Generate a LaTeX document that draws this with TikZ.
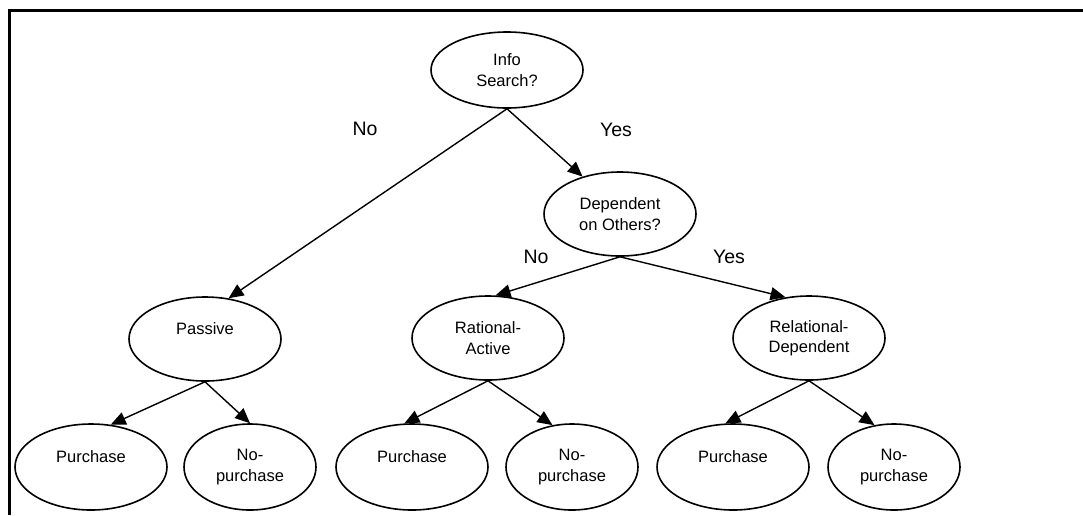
\documentclass[tikz,border=0pt]{standalone}
\usepackage{fontspec}
\setmainfont{Liberation Sans}
\usepackage{tikz}
\usetikzlibrary{arrows.meta,positioning,shapes.geometric}
\definecolor{ink}{HTML}{000000}
\tikzset{
  choice/.style={draw=ink,ellipse,line width=1.6pt,align=center,
    font=\fontsize{16.5}{20.5}\selectfont,minimum width=152pt,minimum height=84pt,inner sep=2pt},
  leafbox/.style={choice,minimum height=86pt},
  outcome/.style={leafbox,minimum width=132pt},
  arr/.style={-{Triangle[length=15pt,width=13pt]},line width=1.4pt,draw=ink},
  branch/.style={font=\fontsize{19.5}{22}\selectfont,text=ink},
}

\begin{document}
\begin{tikzpicture}[x=1pt,y=-1pt]
  \useasboundingbox (0,0) rectangle (1083,515);
  \draw[line width=3pt] (9.5,515) -- (9.5,10.5) -- (1083,10.5);
  % decisions
  \node[choice,minimum height=76pt] (info) at (507,70) {Info\\Search?};
  \node[choice] (dep) at (620,214) {Dependent\\on Others?};
  \node[choice] (passive) at (205,339) {Passive\\\mbox{}};
  \node[choice] (ratio) at (488,338) {Rational-\\Active};
  \node[choice] (relat) at (809,338) {Relational-\\Dependent};
  % outcomes
  \node[leafbox] (buyA) at (91,467) {Purchase\\\mbox{}};
  \node[outcome] (skipA) at (250,467) {No-\\purchase};
  \node[leafbox] (buyB) at (412,467) {Purchase\\\mbox{}};
  \node[outcome] (skipB) at (572,467) {No-\\purchase};
  \node[leafbox] (buyC) at (733,467) {Purchase\\\mbox{}};
  \node[outcome] (skipC) at (894,467) {No-\\purchase};
  \draw[arr] (info.south) -- (passive.60);
  \draw[arr] (info.south) -- (dep.135);
  \draw[arr] (dep.south) -- (ratio.80);
  \draw[arr] (dep.south) -- (relat.120);
  \draw[arr] (passive.south) -- (buyA.65);
  \draw[arr] (passive.south) -- (skipA.north);
  \draw[arr] (ratio.south) -- (buyB.100);
  \draw[arr] (ratio.south) -- (skipB.115);
  \draw[arr] (relat.south) -- (buyC.100);
  \draw[arr] (relat.south) -- (skipC.115);
  \node[branch] (noA) at (365,129) {No};
  \node[branch] (yesA) at (616,130) {Yes};
  \node[branch] (noB) at (536,257) {No};
  \node[branch] (yesB) at (729,257) {Yes};
\end{tikzpicture}
\end{document}
